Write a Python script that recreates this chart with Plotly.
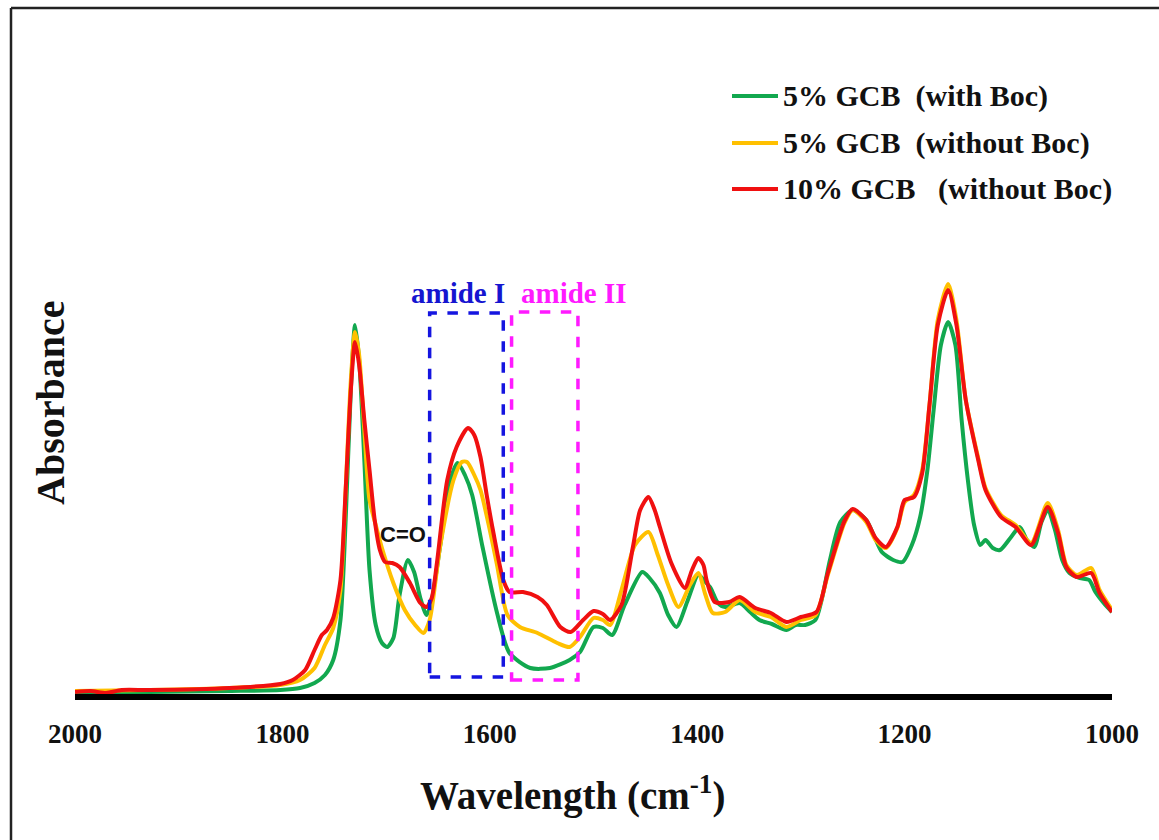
import plotly.graph_objects as go

# ---------------- data ----------------
wn_green = [2000, 1928, 1851, 1802, 1783, 1769, 1759, 1751, 1744, 1739, 1734, 1730, 1726, 1721, 1716, 1710,
            1704, 1699, 1693, 1687, 1679, 1673, 1667, 1661, 1656, 1648, 1638, 1631, 1624, 1617, 1607, 1593,
            1581, 1561, 1542, 1523, 1513, 1500, 1491, 1482, 1470, 1453, 1446, 1436, 1428, 1420, 1409, 1399,
            1392, 1387, 1380, 1373, 1359, 1349, 1340, 1328, 1314, 1305, 1296, 1286, 1280, 1272, 1262, 1250,
            1237, 1229, 1222, 1211, 1202, 1193, 1185, 1178, 1172, 1165, 1158, 1151, 1145, 1139, 1133, 1127,
            1122, 1115, 1108, 1098, 1089, 1082, 1075, 1068, 1062, 1055, 1048, 1041, 1031, 1022, 1016, 1008, 1000]
abs_green = [0.04, 0.05, 0.06, 0.07, 0.09, 0.14, 0.22, 0.37, 0.77, 1.77, 3.07, 3.72, 3.37, 2.37, 1.27, 0.72,
             0.54, 0.50, 0.59, 1.02, 1.37, 1.25, 0.99, 0.82, 0.97, 1.50, 2.17, 2.34, 2.22, 2.02, 1.50, 0.84,
             0.44, 0.29, 0.29, 0.37, 0.45, 0.70, 0.69, 0.62, 0.92, 1.25, 1.19, 1.04, 0.82, 0.70, 0.97, 1.22,
             1.15, 1.09, 0.94, 0.90, 0.94, 0.85, 0.77, 0.73, 0.67, 0.72, 0.72, 0.77, 0.97, 1.37, 1.75, 1.87,
             1.77, 1.60, 1.45, 1.37, 1.35, 1.52, 1.80, 2.27, 2.87, 3.52, 3.75, 3.52, 2.77, 2.17, 1.72, 1.52,
             1.57, 1.49, 1.47, 1.59, 1.70, 1.57, 1.50, 1.75, 1.87, 1.67, 1.37, 1.24, 1.19, 1.17, 1.05, 0.94, 0.85]

wn_orange = [2000, 1928, 1851, 1802, 1783, 1769, 1759, 1751, 1744, 1739, 1734, 1730, 1726, 1721, 1716, 1710,
             1704, 1693, 1682, 1672, 1664, 1658, 1648, 1635, 1627, 1622, 1615, 1609, 1600, 1593, 1583, 1571,
             1554, 1535, 1523, 1513, 1500, 1491, 1484, 1473, 1460, 1447, 1438, 1428, 1418, 1407, 1399, 1392,
             1385, 1373, 1359, 1344, 1329, 1314, 1300, 1286, 1274, 1258, 1250, 1237, 1228, 1218, 1207, 1200,
             1191, 1183, 1176, 1168, 1158, 1150, 1141, 1129, 1122, 1107, 1093, 1078, 1062, 1052, 1044, 1034,
             1020, 1012, 1000]
abs_orange = [0.06, 0.07, 0.09, 0.12, 0.17, 0.29, 0.52, 0.69, 1.07, 2.07, 3.17, 3.65, 3.42, 2.67, 1.97, 1.72,
              1.49, 1.14, 0.87, 0.72, 0.64, 0.77, 1.50, 2.17, 2.35, 2.35, 2.22, 2.07, 1.67, 1.32, 0.82, 0.70,
              0.64, 0.54, 0.50, 0.60, 0.79, 0.77, 0.72, 1.07, 1.52, 1.65, 1.42, 1.12, 0.90, 1.12, 1.24, 1.02,
              0.84, 0.85, 0.97, 0.85, 0.80, 0.70, 0.77, 0.82, 1.22, 1.74, 1.87, 1.75, 1.57, 1.49, 1.69, 1.95,
              2.02, 2.27, 2.92, 3.77, 4.13, 3.77, 2.97, 2.39, 2.09, 1.82, 1.72, 1.54, 1.94, 1.67, 1.32, 1.22,
              1.29, 1.07, 0.87]

wn_red = [2000, 1985, 1970, 1955, 1928, 1851, 1802, 1790, 1778, 1769, 1762, 1757, 1751, 1744, 1739, 1734, 1730,
          1726, 1721, 1716, 1711, 1706, 1701, 1694, 1687, 1677, 1667, 1661, 1656, 1651, 1641, 1632, 1621,
          1615, 1609, 1603, 1597, 1587, 1581, 1568, 1554, 1545, 1532, 1522, 1510, 1500, 1491, 1484, 1473,
          1462, 1455, 1447, 1441, 1436, 1425, 1412, 1405, 1399, 1394, 1391, 1383, 1369, 1359, 1344, 1329,
          1314, 1300, 1285, 1274, 1258, 1250, 1237, 1228, 1218, 1207, 1200, 1191, 1183, 1176, 1168, 1158,
          1150, 1141, 1129, 1122, 1107, 1093, 1078, 1062, 1052, 1044, 1034, 1020, 1012, 1000]
abs_red = [0.05, 0.06, 0.04, 0.07, 0.07, 0.09, 0.13, 0.17, 0.27, 0.47, 0.62, 0.67, 0.79, 1.17, 2.07, 3.07, 3.55,
           3.32, 2.77, 2.27, 1.77, 1.47, 1.35, 1.34, 1.30, 1.14, 0.94, 0.90, 0.99, 1.34, 2.17, 2.50, 2.69,
           2.62, 2.40, 2.02, 1.67, 1.17, 1.05, 1.05, 1.00, 0.92, 0.70, 0.65, 0.77, 0.86, 0.83, 0.77, 0.92,
           1.50, 1.87, 2.00, 1.87, 1.70, 1.34, 1.09, 1.27, 1.39, 1.32, 1.17, 0.95, 0.95, 1.00, 0.89, 0.84,
           0.75, 0.80, 0.85, 1.24, 1.76, 1.88, 1.77, 1.59, 1.50, 1.70, 1.97, 2.00, 2.24, 2.92, 3.72, 4.07,
           3.72, 2.97, 2.37, 2.07, 1.80, 1.70, 1.52, 1.90, 1.64, 1.30, 1.20, 1.24, 1.04, 0.85]

series_names = ["5% GCB\u00a0\u00a0(with Boc)", "5% GCB\u00a0\u00a0(without Boc)", "10% GCB\u00a0\u00a0\u00a0(without Boc)"]
series_colors = ["#12A84F", "#FFC000", "#F01010"]
x_ticks = [2000, 1800, 1600, 1400, 1200, 1000]

# ---------------- figure ----------------
L, R, T, B = 75, 47, 40, 146
W, H = 1159, 840
PW, PH = W - L - R, H - T - B


def px(xp):
    return (xp - L) / PW


def py(yp):
    return (H - B - yp) / PH


fig = go.Figure()
for wn, ab, name, col in zip([wn_green, wn_orange, wn_red], [abs_green, abs_orange, abs_red],
                             series_names, series_colors):
    fig.add_trace(go.Scatter(x=wn, y=ab, mode="lines", name=name,
                             line=dict(color=col, width=4, shape="spline", smoothing=0.7),
                             hoverinfo="skip", showlegend=False))

serif = "Liberation Serif, Times New Roman, serif"

shapes = []
# amide boxes
shapes.append(dict(type="rect", xref="x", yref="y", x0=1658, x1=1587, y0=0.20, y1=3.84,
                   line=dict(color="#1515E0", width=3.5, dash="dash")))
shapes.append(dict(type="rect", xref="x", yref="y", x0=1579, x1=1515, y0=0.17, y1=3.85,
                   line=dict(color="#FF1AFF", width=3.5, dash="dash")))
# outer frame (left and top edges visible)
shapes.append(dict(type="line", xref="paper", yref="paper", x0=px(11), x1=px(11), y0=py(845), y1=py(8),
                   line=dict(color="#222222", width=2.5)))
shapes.append(dict(type="line", xref="paper", yref="paper", x0=px(11), x1=px(1165), y0=py(8), y1=py(8),
                   line=dict(color="#222222", width=2.5)))

annotations = []
legend_rows = [96, 143, 189]
for name, col, yr in zip(series_names, series_colors, legend_rows):
    shapes.append(dict(type="line", xref="paper", yref="paper", x0=px(732), x1=px(778), y0=py(yr), y1=py(yr),
                       line=dict(color=col, width=4)))
    annotations.append(dict(xref="paper", yref="paper", x=px(781), y=py(yr), xanchor="left", yanchor="middle",
                            text="<b>" + name + "</b>", showarrow=False,
                            font=dict(family=serif, size=30, color="#111111")))

annotations.append(dict(xref="x", yref="y", x=1631, y=4.04, text="<b>amide I</b>", showarrow=False,
                        xanchor="center", yanchor="middle",
                        font=dict(family=serif, size=29, color="#1515D0")))
annotations.append(dict(xref="x", yref="y", x=1519, y=4.04, text="<b>amide II</b>", showarrow=False,
                        xanchor="center", yanchor="middle",
                        font=dict(family=serif, size=29, color="#FF1AFF")))
annotations.append(dict(xref="x", yref="y", x=1684, y=1.63, text="<b>C=O</b>", showarrow=False,
                        xanchor="center", yanchor="middle",
                        font=dict(family="Liberation Sans, Arial, sans-serif", size=22, color="#111111")))
annotations.append(dict(xref="paper", yref="paper", x=px(50), y=py(403), text="<b>Absorbance</b>",
                        textangle=-90, showarrow=False, xanchor="center", yanchor="middle",
                        font=dict(family=serif, size=40, color="#111111")))
annotations.append(dict(xref="paper", yref="paper", x=px(572), y=py(793),
                        text="<b>Wavelength (cm<sup>-1</sup>)</b>", showarrow=False,
                        xanchor="center", yanchor="middle",
                        font=dict(family=serif, size=39, color="#111111")))

fig.update_layout(
    width=W, height=H,
    margin=dict(l=L, r=R, t=T, b=B, pad=0),
    paper_bgcolor="white", plot_bgcolor="white",
    shapes=shapes, annotations=annotations,
    xaxis=dict(range=[2000, 1000], tickvals=x_ticks, ticktext=[str(v) for v in x_ticks],
               showgrid=False, zeroline=False, showline=True, linecolor="black", linewidth=6,
               ticks="", ticklabelstandoff=11,
               tickfont=dict(family=serif, size=27, color="#111111", weight="bold")),
    yaxis=dict(range=[0.03, 0.03 + PH / 100], showgrid=False, zeroline=False, showline=False,
               showticklabels=False, ticks=""),
    showlegend=False,
)

fig.write_html("out.html", config={"displayModeBar": False})
